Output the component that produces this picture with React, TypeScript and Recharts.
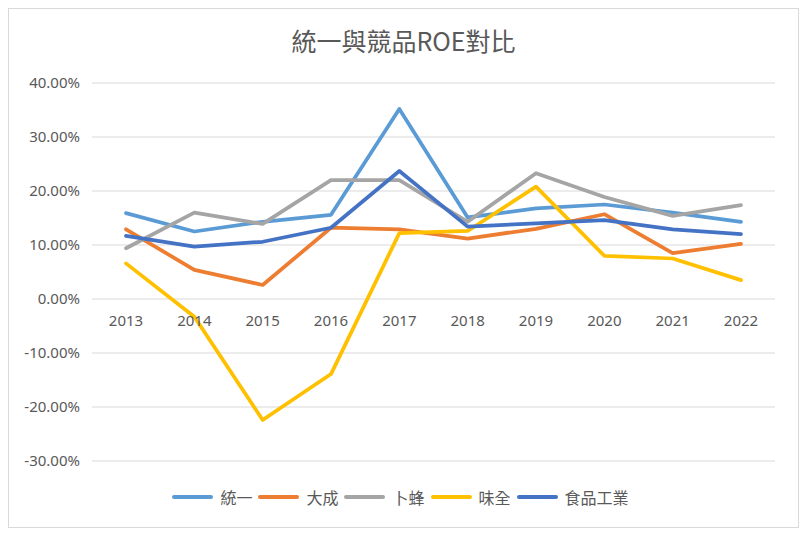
import React from "react";
import {
  LineChart,
  Line,
  XAxis,
  YAxis,
  CartesianGrid,
  ReferenceDot,
} from "recharts";

const years = ["2013", "2014", "2015", "2016", "2017", "2018", "2019", "2020", "2021", "2022"];
const uniPresident = [15.9, 12.5, 14.3, 15.6, 35.2, 15.1, 16.8, 17.5, 16.0, 14.3];
const greatWall = [12.9, 5.4, 2.6, 13.2, 12.9, 11.2, 13.0, 15.7, 8.5, 10.2];
const charoen = [9.4, 16.0, 13.9, 22.0, 22.0, 14.3, 23.3, 18.9, 15.4, 17.4];
const weiChuan = [6.6, -3.3, -22.4, -13.9, 12.2, 12.6, 20.8, 8.0, 7.5, 3.5];
const foodIndustry = [11.7, 9.7, 10.6, 13.2, 23.7, 13.4, 14.0, 14.6, 12.9, 12.0];
const yTicks = [-30, -20, -10, 0, 10, 20, 30, 40];

const series = [
  { key: "uni", name: "統一", color: "#5B9BD5", values: uniPresident },
  { key: "gw", name: "大成", color: "#ED7D31", values: greatWall },
  { key: "cp", name: "卜蜂", color: "#A5A5A5", values: charoen },
  { key: "wc", name: "味全", color: "#FFC000", values: weiChuan },
  { key: "food", name: "食品工業", color: "#4472C4", values: foodIndustry },
];

const data = years.map((year, i) => {
  const row: Record<string, string | number> = { year };
  series.forEach((s) => {
    row[s.key] = s.values[i];
  });
  return row;
});

const font = "'Noto Sans', 'Noto Sans CJK TC', sans-serif";
const textColor = "#595959";

const YearLabel = (props: any) => {
  const { viewBox, value } = props;
  const cx = viewBox.x + viewBox.width / 2;
  const cy = viewBox.y + viewBox.height / 2;
  return (
    <text x={cx} y={cy + 27} textAnchor="middle" fill={textColor} fontSize={15} fontFamily={font}>
      {value}
    </text>
  );
};

export default function App() {
  return (
    <div
      style={{
        position: "relative",
        width: 789,
        height: 518,
        border: "1px solid #d9d9d9",
        background: "#fff",
        fontFamily: font,
      }}
    >
      <div
        style={{
          position: "absolute",
          top: 13,
          left: 0,
          width: "100%",
          textAlign: "center",
          fontSize: 25,
          color: textColor,
          fontFamily: "'Noto Sans CJK TC', sans-serif",
        }}
      >
        統一與競品ROE對比
      </div>
      <LineChart
        width={789}
        height={518}
        data={data}
        margin={{ top: 74, right: 23, bottom: 66, left: 13 }}
      >
        <CartesianGrid vertical={false} stroke="#d9d9d9" />
        <XAxis dataKey="year" hide padding={{ left: 34, right: 34 }} />
        <YAxis
          width={70}
          domain={[-30, 40]}
          ticks={yTicks}
          axisLine={false}
          tickLine={false}
          tickMargin={6}
          tick={{ fill: textColor, fontSize: 15, fontFamily: font }}
          tickFormatter={(v: number) => `${v.toFixed(2)}%`}
        />
        {years.map((y) => (
          <ReferenceDot
            key={y}
            x={y}
            y={0}
            r={1}
            fill="none"
            stroke="none"
            label={<YearLabel value={y} />}
          />
        ))}
        {series.map((s) => (
          <Line
            key={s.key}
            dataKey={s.key}
            name={s.name}
            stroke={s.color}
            strokeWidth={3.75}
            strokeLinejoin="round"
            strokeLinecap="round"
            dot={false}
            isAnimationActive={false}
          />
        ))}
      </LineChart>
      <div
        style={{
          position: "absolute",
          top: 476,
          left: 0,
          width: "100%",
          display: "flex",
          justifyContent: "center",
          alignItems: "center",
        }}
      >
        {series.map((s) => (
          <div key={s.key} style={{ display: "flex", alignItems: "center", marginRight: 6 }}>
            <div
              style={{
                width: 41,
                height: 4,
                borderRadius: 2,
                background: s.color,
                marginRight: 7,
              }}
            />
            <span
              style={{
                fontSize: 16,
                color: textColor,
                fontFamily: "'Noto Sans CJK TC', sans-serif",
              }}
            >
              {s.name}
            </span>
          </div>
        ))}
      </div>
    </div>
  );
}
